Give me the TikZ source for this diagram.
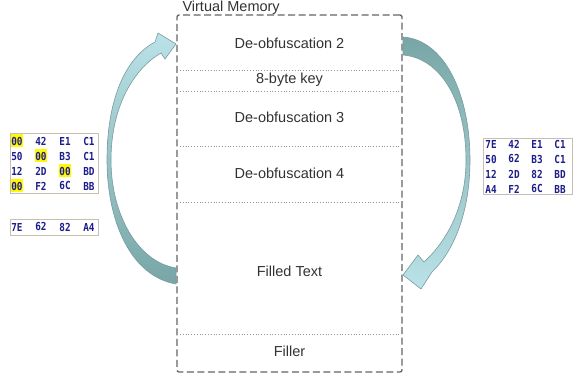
\documentclass[tikz,border=0pt]{standalone}
\usepackage{fontspec}
\setmainfont{Liberation Sans}
\newfontfamily\hexfont{DejaVu Sans Mono}
\usetikzlibrary{positioning}

\definecolor{memline}{RGB}{100,100,100}
\definecolor{memtext}{RGB}{50,50,50}
\definecolor{sepline}{RGB}{150,150,150}
\definecolor{hexblue}{RGB}{28,28,140}
\definecolor{hexframe}{RGB}{200,190,180}
\definecolor{hilite}{RGB}{255,250,0}
\definecolor{arrowdark}{RGB}{120,166,166}
\definecolor{arrowlight}{RGB}{186,226,232}
\definecolor{arrowedge}{RGB}{120,155,160}

% narrow bold byte
\newcommand{\hexbyte}[1]{\scalebox{0.85}[1]{#1}}

\begin{document}
\begin{tikzpicture}[
  x=1pt, y=-1pt,
  membox/.style={draw=memline, line width=1.3pt, dash pattern=on 7pt off 3.5pt,
    rounded corners=2pt, minimum width=225pt, minimum height=357pt, inner sep=0pt},
  sep/.style={draw=sepline, line width=0.8pt, dotted},
  memlabel/.style={text=memtext, font=\fontsize{14.5}{16}\selectfont},
  hexframe/.style={draw=hexframe, fill=white, line width=0.8pt, inner sep=0pt},
  hexcell/.style={text=hexblue, inner sep=0pt, font=\hexfont\bfseries\fontsize{11}{12}\selectfont},
  hilite/.style={fill=hilite, minimum width=12pt, minimum height=13pt, inner sep=0pt},
  bigarrow/.style={draw=arrowedge, line width=0.6pt}
]
  \useasboundingbox (0,0) rectangle (574,379);

  % memory layout
  \node[membox] (mem) at (289.5,193.5) {};
  \node[memlabel, anchor=base west] (title) at (179,12) {Virtual Memory};
  \foreach \y in {70,91,146,202,334}
    \draw[sep] (180,\y) -- (399,\y);
  \node[memlabel] (deob2) at (289.5,43) {De-obfuscation 2};
  \node[memlabel] (key) at (289.5,80) {8-byte key};
  \node[memlabel] (deob3) at (289.5,117) {De-obfuscation 3};
  \node[memlabel] (deob4) at (289.5,173) {De-obfuscation 4};
  \node[memlabel] (filled) at (289.5,271) {Filled Text};
  \node[memlabel] (filler) at (289.5,351) {Filler};

  % curved arrows on both sides
  \path[bigarrow, top color=arrowlight, bottom color=arrowdark]
    (176,268) .. controls (138,262) and (111,215) .. (111,160)
    .. controls (111,105) and (135,68) .. (161,53)
    -- (165,59) -- (176,44) -- (158,33) -- (155,42)
    .. controls (125,58) and (107,100) .. (107,160)
    .. controls (107,220) and (130,276) .. (176,284) -- cycle;
  \path[bigarrow, top color=arrowdark, bottom color=arrowlight]
    (403,37) .. controls (445,40) and (470,95) .. (470,160)
    .. controls (470,210) and (455,250) .. (432,272)
    -- (421,289) -- (403,275) -- (418,255) -- (424,262)
    .. controls (448,240) and (466,205) .. (466,160)
    .. controls (466,100) and (440,58) .. (403,55) -- cycle;

  % encoded block with the key bytes zeroed
  \node[hexframe, minimum width=88pt, minimum height=60pt] (encframe) at (54,163) {};
  \foreach \r/\c in {1/1,2/2,3/3,4/1}
    \node[hilite] (hl-\r-\c) at ({17+24*(\c-1)},{141+15*(\r-1)}) {};
  \foreach \row [count=\r] in {{00,42,E1,C1},{50,00,B3,C1},{12,2D,00,BD},{00,F2,6C,BB}}
    \foreach \cell [count=\c] in \row
      \node[hexcell] (enc-\r-\c) at ({17+24*(\c-1)},{141+15*(\r-1)}) {\hexbyte{\cell}};

  % recovered key
  \node[hexframe, minimum width=88pt, minimum height=16pt] (keyframe) at (54,227) {};
  \foreach \cell [count=\c] in {7E,62,82,A4}
    \node[hexcell] (key-\c) at ({17+24*(\c-1)},227) {\hexbyte{\cell}};

  % decoded block
  \node[hexframe, minimum width=89pt, minimum height=56pt] (decframe) at (527.5,166) {};
  \foreach \row [count=\r] in {{7E,42,E1,C1},{50,62,B3,C1},{12,2D,82,BD},{A4,F2,6C,BB}}
    \foreach \cell [count=\c] in \row
      \node[hexcell] (dec-\r-\c) at ({491+23*(\c-1)},{144+15*(\r-1)}) {\hexbyte{\cell}};
\end{tikzpicture}
\end{document}
